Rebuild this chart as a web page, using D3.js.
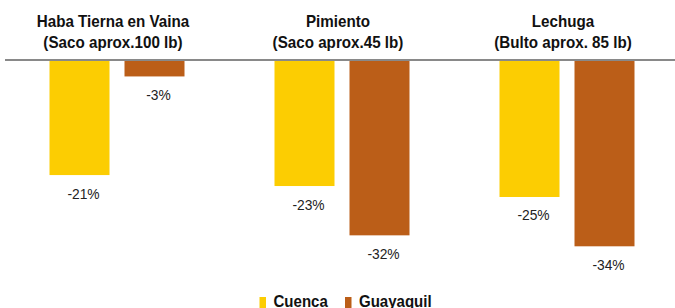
<!DOCTYPE html>
<html>
<head>
<meta charset="utf-8">
<script src="https://cdn.jsdelivr.net/npm/d3@7"></script>
<style>
  html, body { margin: 0; padding: 0; background: #fff; }
  svg { display: block; }
  text { font-family: "Liberation Sans", Arial, sans-serif; }
</style>
</head>
<body>
<svg id="chart" width="675" height="308"></svg>
<script>
const categories = ["Haba Tierna en Vaina|(Saco aprox.100 lb)", "Pimiento|(Saco aprox.45 lb)", "Lechuga|(Bulto aprox. 85 lb)"];
const seriesNames = ["Cuenca", "Guayaquil"];
const cuenca = [-21, -23, -25];
const guayaquil = [-3, -32, -34];
const valueLabels = [["-21%", "-23%", "-25%"], ["-3%", "-32%", "-34%"]];
const colors = ["#FCCD02", "#BB5E18"];

const svg = d3.select("#chart");
const W = 675, H = 308;

const x0 = d3.scaleBand().domain(d3.range(categories.length)).range([4.5, 679.5]).paddingInner(0).paddingOuter(0);
const x1 = d3.scaleBand().domain(seriesNames).range([45, 180]).paddingInner(0.2);
const y = d3.scaleLinear().domain([0, -34]).range([60, 246.3]);

const series = [cuenca, guayaquil];

function placeText(sel, x, yv, sx) {
  sel.attr("transform", `translate(${x},${yv}) scale(${sx},1)`);
}

const groups = svg.selectAll("g.grp").data(categories).join("g")
  .attr("class", "grp")
  .attr("transform", (d, i) => `translate(${x0(i)},0)`);

seriesNames.forEach((s, si) => {
  groups.append("rect")
    .attr("x", x1(s))
    .attr("width", x1.bandwidth())
    .attr("y", y(0))
    .attr("height", (d, i) => y(series[si][i]) - y(0))
    .attr("fill", colors[si]);
  groups.append("text")
    .attr("transform", (d, i) => `translate(${x1(s) + x1.bandwidth() / 2 + 4},${y(series[si][i]) + 23.5}) scale(0.92,1)`)
    .attr("text-anchor", "middle")
    .attr("font-size", "15px")
    .attr("fill", "#222")
    .text((d, i) => valueLabels[si][i]);
});

groups.each(function (d, i) {
  const lines = d.split("|");
  const g = d3.select(this);
  const cx = x0.bandwidth() / 2 - 4;
  lines.forEach((ln, li) => {
    g.append("text")
      .attr("transform", `translate(${cx},${26.5 + li * 21.6}) scale(0.95,1)`)
      .attr("text-anchor", "middle")
      .attr("font-size", "16px")
      .attr("font-weight", "bold")
      .attr("fill", "#111")
      .text(ln);
  });
});

svg.append("line")
  .attr("x1", 5).attr("x2", W)
  .attr("y1", y(0)).attr("y2", y(0))
  .attr("stroke", "#898989").attr("stroke-width", 2);

const legendX = [259.5, 345];
const legend = svg.append("g");
seriesNames.forEach((s, i) => {
  legend.append("rect")
    .attr("x", legendX[i]).attr("y", 297)
    .attr("width", 6.5).attr("height", 11)
    .attr("fill", colors[i]);
  legend.append("text")
    .attr("transform", `translate(${legendX[i] + 14},306.5) scale(0.94,1)`)
    .attr("font-size", "16px").attr("font-weight", "bold")
    .attr("fill", "#111")
    .text(s);
});
</script>
</body>
</html>
